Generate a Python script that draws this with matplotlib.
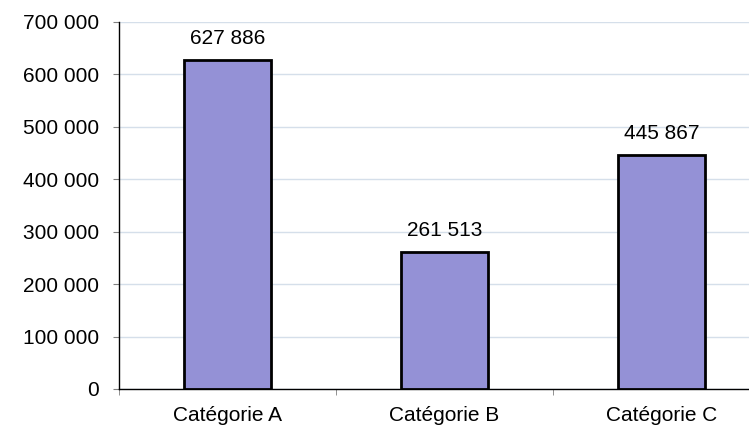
import matplotlib.pyplot as plt
import numpy as np

categories = ["Catégorie A", "Catégorie B", "Catégorie C"]
values = [627886, 261513, 445867]
yticks = [0, 100000, 200000, 300000, 400000, 500000, 600000, 700000]


def fmt(v):
    return f"{v:,}".replace(",", " ")


plt.rcParams["font.family"] = ["Liberation Sans", "DejaVu Sans"]

fig = plt.figure(figsize=(7.49, 4.25), dpi=100)
# plot area runs past the right edge, like the original screenshot
ax = fig.add_axes([119 / 749, 36 / 425, 651 / 749, 367 / 425])

x = np.arange(len(categories))
ax.bar(x, values, width=0.4, color="#9491D6", edgecolor="black", linewidth=2.0, zorder=3)

for xi, v in zip(x, values):
    ax.annotate(fmt(v), (xi, v), xytext=(0, 8.5), textcoords="offset points",
                ha="center", va="bottom", fontsize=15)

ax.set_xlim(-0.5, len(categories) - 0.5)
ax.set_ylim(0, 700000)
ax.set_yticks(yticks)
ax.set_yticklabels([fmt(t) for t in yticks], fontsize=15)
ax.yaxis.grid(True, color="#D5DFEA", linewidth=1, zorder=0)

ax.set_xticks(x)
ax.set_xticklabels(categories, fontsize=15)
ax.set_xticks(np.arange(-0.5, len(categories), 1), minor=True)
ax.tick_params(axis="x", which="major", length=0, pad=12)
ax.tick_params(axis="x", which="minor", length=4.5, color="#808080", direction="out")
ax.tick_params(axis="y", length=4.5, color="#808080", pad=10)

for s in ["top", "right"]:
    ax.spines[s].set_visible(False)
ax.spines["left"].set_linewidth(1.0)
ax.spines["bottom"].set_linewidth(1.0)

fig.savefig("out.png", dpi=100)
